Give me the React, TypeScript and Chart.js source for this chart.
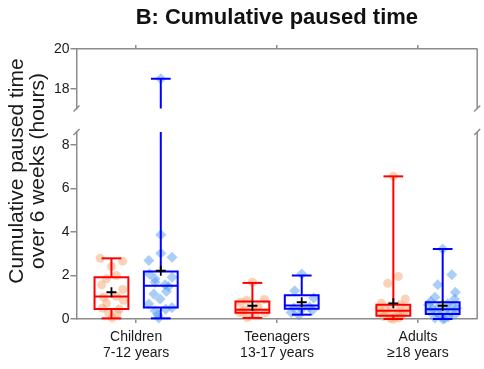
import React, { useEffect, useRef } from 'react';
import { Chart, registerables } from 'chart.js';

Chart.register(...registerables);

// ---------- data ----------
const categories: string[][] = [
  ['Children', '7-12 years'],
  ['Teenagers', '13-17 years'],
  ['Adults', '\u226518 years'],
];
const chartTitle = 'B: Cumulative paused time';
const yTitleLines = ['Cumulative paused time', 'over 6 weeks (hours)'];
const upperTicks = [18, 20];
const lowerTicks = [0, 2, 4, 6, 8];
const upperRange = [17, 20];
const lowerRange = [0, 8.6];

// box statistics (red series / blue series), per category
const redMin = [0.03, 0.05, 0.0];
const redQ1 = [0.46, 0.29, 0.15];
const redMedian = [1.03, 0.42, 0.38];
const redQ3 = [1.92, 0.8, 0.66];
const redMax = [2.79, 1.66, 6.56];
const redMean = [1.23, 0.61, 0.72];

const blueMin = [0.03, 0.2, 0.0];
const blueQ1 = [0.53, 0.47, 0.23];
const blueMedian = [1.53, 0.62, 0.45];
const blueQ3 = [2.19, 1.09, 0.77];
const blueMax = [18.5, 2.0, 3.22];
const blueMean = [2.22, 0.77, 0.61];

// individual observations (values) and their horizontal jitter (category units)
const redValues: number[][] = [
  [2.79, 2.66, 2.41, 2.0, 1.85, 1.57, 1.36, 1.05, 1.0, 0.86, 0.72, 0.5, 0.45, 0.3, 0.25, 0.05],
  [1.69, 0.9, 0.85, 0.77, 0.55, 0.46, 0.42, 0.35, 0.3, 0.28, 0.2, 0.07],
  [6.56, 1.96, 1.64, 0.92, 0.72, 0.65, 0.6, 0.5, 0.45, 0.4, 0.35, 0.3, 0.25, 0.2, 0.15, 0.12, 0.1, 0.05, 0.03, 0.0],
];
const redJitter: number[][] = [
  [-0.08, 0.08, 0, 0.035, -0.035, -0.07, 0.08, 0.035, -0.055, 0.085, -0.035, -0.065, 0.055, -0.02, 0.04, 0.005],
  [0, 0.085, -0.04, -0.085, 0.04, 0.005, -0.055, -0.07, -0.09, 0.09, 0.02, -0.035],
  [0, 0.035, -0.04, 0.085, -0.085, 0.05, -0.02, -0.1, 0.09, -0.055, 0.03, -0.085, 0.07, -0.03, 0.055, -0.07, 0.015, 0.04, -0.02, 0],
];
const blueValues: number[][] = [
  [18.5, 3.87, 3.02, 2.84, 2.69, 2.07, 1.92, 1.85, 1.69, 1.58, 1.5, 1.27, 1.15, 0.92, 0.69, 0.53, 0.45, 0.38, 0.2, 0.05],
  [2.07, 1.3, 0.97, 0.55, 0.51, 0.46, 0.4, 0.3, 0.18],
  [3.22, 2.04, 1.57, 1.23, 1.0, 0.92, 0.8, 0.7, 0.65, 0.6, 0.55, 0.5, 0.45, 0.4, 0.35, 0.3, 0.25, 0.2, 0.15, 0.1, 0.05, 0.02, 0.0],
];
const blueJitter: number[][] = [
  [0, 0, 0, 0.08, -0.085, -0.08, 0.08, -0.04, -0.04, 0.03, 0.055, 0.04, -0.05, -0.005, -0.085, 0.08, 0.035, -0.04, -0.02, -0.015],
  [0, -0.05, 0.085, 0.055, -0.055, 0, 0.075, -0.075, -0.02],
  [0, 0.065, -0.035, 0.09, -0.055, 0.085, -0.085, 0.035, -0.1, 0.07, -0.03, 0.1, -0.07, 0.015, -0.09, 0.055, -0.04, 0.085, -0.015, 0.04, -0.055, 0.015, 0],
];

// ---------- styling ----------
const FONT = "'Liberation Sans', Arial, sans-serif";
const axisColor = '#8c8c8c';
const textColor = '#1a1a1a';
const redLine = '#ff0000';
const blueLine = '#0000ff';
const redDot = 'rgba(245,160,105,0.47)';
const blueDot = 'rgba(75,150,240,0.47)';
const groupOffset = 0.175;
const boxHalf = 0.12;
const capHalf = 0.07;
const xMin = -0.423;
const xMax = 2.42;

const panels = [
  { id: 'yBot', min: lowerRange[0], max: lowerRange[1] },
  { id: 'yTop', min: upperRange[0], max: upperRange[1] },
];
const panelOf = (v: number) => (v > lowerRange[1] ? 'yTop' : 'yBot');

function lineDs(points: { x: number; y: number }[], axis: string, color: string, cap = 'butt') {
  return {
    type: 'scatter',
    data: points,
    xAxisID: 'x',
    yAxisID: axis,
    showLine: true,
    borderColor: color,
    borderWidth: 2,
    borderCapStyle: cap,
    borderJoinStyle: 'miter',
    pointRadius: 0,
    pointHoverRadius: 0,
    fill: false,
    tension: 0,
    clip: false,
    order: 1,
  };
}

function vSegments(x: number, a: number, b: number, color: string) {
  const lo = Math.min(a, b);
  const hi = Math.max(a, b);
  const out: any[] = [];
  for (const p of panels) {
    const l = Math.max(lo, p.min);
    const h = Math.min(hi, p.max);
    if (l < h) out.push(lineDs([{ x, y: l }, { x, y: h }], p.id, color));
  }
  return out;
}

function boxDatasets(
  mins: number[], q1s: number[], meds: number[], q3s: number[], maxs: number[], offset: number, color: string,
) {
  const out: any[] = [];
  categories.forEach((_, i) => {
    const c = i + offset;
    const ax = panelOf(q3s[i]);
    out.push(
      lineDs(
        [
          { x: c - boxHalf, y: q1s[i] },
          { x: c + boxHalf, y: q1s[i] },
          { x: c + boxHalf, y: q3s[i] },
          { x: c - boxHalf, y: q3s[i] },
          { x: c - boxHalf, y: q1s[i] },
        ],
        ax,
        color,
        'square',
      ),
    );
    out.push(lineDs([{ x: c - boxHalf, y: meds[i] }, { x: c + boxHalf, y: meds[i] }], panelOf(meds[i]), color));
    out.push(...vSegments(c, q3s[i], maxs[i], color));
    out.push(...vSegments(c, q1s[i], mins[i], color));
    out.push(lineDs([{ x: c - capHalf, y: maxs[i] }, { x: c + capHalf, y: maxs[i] }], panelOf(maxs[i]), color));
    out.push(lineDs([{ x: c - capHalf, y: mins[i] }, { x: c + capHalf, y: mins[i] }], panelOf(mins[i]), color));
  });
  return out;
}

function pointDatasets(values: number[][], jitter: number[][], offset: number, color: string, style: string, radius: number) {
  return panels.map((p) => {
    const data: { x: number; y: number }[] = [];
    values.forEach((vals, i) => {
      vals.forEach((v, k) => {
        if (panelOf(v) === p.id) data.push({ x: i + offset + jitter[i][k], y: v });
      });
    });
    return {
      type: 'scatter',
      data,
      xAxisID: 'x',
      yAxisID: p.id,
      pointStyle: style,
      pointRadius: radius,
      pointHoverRadius: radius,
      backgroundColor: color,
      borderWidth: 0,
      borderColor: 'rgba(0,0,0,0)',
      clip: false,
      order: 5,
    };
  });
}

function meanDataset(means: number[], offset: number) {
  return {
    type: 'scatter',
    data: means.map((m, i) => ({ x: i + offset, y: m })),
    xAxisID: 'x',
    yAxisID: 'yBot',
    pointStyle: 'cross',
    pointRadius: 5,
    pointHoverRadius: 5,
    borderColor: '#000000',
    borderWidth: 1.8,
    clip: false,
    order: 0,
  };
}

const axisBreakPlugin = {
  id: 'axisBreak',
  afterDraw(chart: any) {
    const { ctx, chartArea } = chart;
    const top = chart.scales.yTop;
    const bot = chart.scales.yBot;
    ctx.save();
    ctx.strokeStyle = axisColor;
    ctx.lineWidth = 1.5;
    ctx.beginPath();
    ctx.moveTo(chartArea.right, top.top);
    ctx.lineTo(chartArea.right, top.bottom);
    ctx.moveTo(chartArea.right, bot.top);
    ctx.lineTo(chartArea.right, bot.bottom);
    for (const x of [chartArea.left, chartArea.right]) {
      for (const y of [top.bottom, bot.top]) {
        ctx.moveTo(x - 3, y + 3);
        ctx.lineTo(x + 3, y - 3);
      }
    }
    ctx.stroke();
    ctx.restore();
  },
};

const axisGrid = { display: true, drawOnChartArea: false, drawTicks: true, tickLength: 4, color: axisColor, lineWidth: 1.5 };
const axisBorder = { display: true, color: axisColor, width: 1.5 };
const hiddenAxis = {
  type: 'linear',
  position: 'left',
  ticks: { display: false },
  grid: { display: false, drawTicks: false },
  border: { display: false },
};
const setTicks = (vals: number[]) => (s: any) => {
  s.ticks = vals.map((v) => ({ value: v }));
};

export default function App() {
  const ref = useRef<HTMLCanvasElement>(null);
  useEffect(() => {
    if (!ref.current) return;
    const datasets: any[] = [
      ...pointDatasets(redValues, redJitter, -groupOffset, redDot, 'circle', 4.5),
      ...pointDatasets(blueValues, blueJitter, groupOffset, blueDot, 'rectRot', 5.5),
      ...boxDatasets(redMin, redQ1, redMedian, redQ3, redMax, -groupOffset, redLine),
      ...boxDatasets(blueMin, blueQ1, blueMedian, blueQ3, blueMax, groupOffset, blueLine),
      meanDataset(redMean, -groupOffset),
      meanDataset(blueMean, groupOffset),
    ];
    const yTickStyle = { font: { family: FONT, size: 14 }, color: textColor, padding: 1 };
    const yGrid = { ...axisGrid, tickLength: 6 };
    const chart = new Chart(ref.current, {
      type: 'scatter',
      data: { datasets },
      plugins: [axisBreakPlugin],
      options: {
        responsive: false,
        animation: false,
        events: [],
        layout: { padding: { top: 0, right: 1, bottom: 0, left: 0 } },
        plugins: {
          legend: { display: false },
          tooltip: { enabled: false },
          title: {
            display: true,
            text: chartTitle,
            fullSize: false,
            color: '#111111',
            font: { family: FONT, size: 22, weight: 'bold', lineHeight: 1.2 },
            padding: { top: 4.5, bottom: 14.1 },
          },
        },
        scales: {
          x: {
            type: 'linear',
            position: 'bottom',
            min: xMin,
            max: xMax,
            afterBuildTicks: setTicks(categories.map((_, i) => i)),
            grid: axisGrid,
            border: axisBorder,
            ticks: {
              autoSkip: false,
              maxRotation: 0,
              font: { family: FONT, size: 14, lineHeight: 1.15 },
              color: textColor,
              padding: 6,
              callback: (v: any) => categories[Math.round(Number(v))],
            },
            afterFit: (s: any) => {
              s.height = 50;
            },
          },
          x2: {
            type: 'linear',
            position: 'top',
            min: xMin,
            max: xMax,
            afterBuildTicks: setTicks(categories.map((_, i) => i)),
            grid: axisGrid,
            border: axisBorder,
            ticks: { display: false },
            afterFit: (s: any) => {
              s.height = 4;
            },
          },
          yBot: {
            type: 'linear',
            position: 'left',
            stack: 'main',
            stackWeight: 187,
            min: lowerRange[0],
            max: lowerRange[1],
            afterBuildTicks: setTicks(lowerTicks),
            grid: yGrid,
            border: axisBorder,
            ticks: yTickStyle,
            afterFit: (s: any) => {
              s.width = 28.5;
            },
          },
          yGap: {
            ...hiddenAxis,
            stack: 'main',
            stackWeight: 23.5,
            min: 0,
            max: 1,
            afterFit: (s: any) => {
              s.width = 28.5;
            },
          },
          yTop: {
            type: 'linear',
            position: 'left',
            stack: 'main',
            stackWeight: 59.5,
            min: upperRange[0],
            max: upperRange[1],
            afterBuildTicks: setTicks(upperTicks),
            grid: yGrid,
            border: axisBorder,
            ticks: yTickStyle,
            afterFit: (s: any) => {
              s.width = 28.5;
            },
          },
          yTitleB: {
            ...hiddenAxis,
            stack: 'ttl',
            stackWeight: 26,
            min: 0,
            max: 1,
            afterFit: (s: any) => {
              s.width = 48;
            },
          },
          yTitle: {
            ...hiddenAxis,
            stack: 'ttl',
            stackWeight: 244,
            min: 0,
            max: 1,
            title: {
              display: true,
              text: yTitleLines,
              color: textColor,
              font: { family: FONT, size: 21, lineHeight: 1.0 },
              padding: { top: 6.5, bottom: 0 },
            },
            afterFit: (s: any) => {
              s.width = 48;
            },
          },
        },
      } as any,
    } as any);
    return () => chart.destroy();
  }, []);
  return (
    <div style={{ position: 'absolute', left: 0, top: 0, width: 484, height: 369 }}>
      <canvas ref={ref} width={484} height={369} />
    </div>
  );
}
